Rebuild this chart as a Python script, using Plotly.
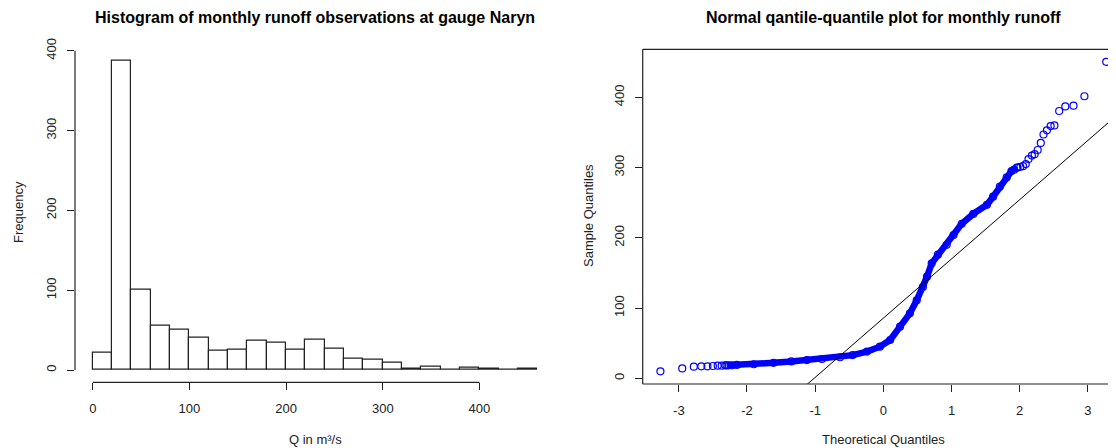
import plotly.graph_objects as go

# histogram: bins of 20 m3/s, counts
BIN_EDGES = list(range(0, 480, 20))
COUNTS = [22, 387, 100, 56, 50, 40, 24, 25, 37, 34, 25, 38, 27, 14, 13, 9, 2, 4, 0, 3, 1, 0, 1]
HIST_TICKS = [0, 100, 200, 300, 400]

# QQ plot: sparse tail points (theoretical, sample)
TAIL_X = [-3.27, -2.95, -2.78, -2.67, -2.58, -2.50, -2.43, -2.37, -2.32, -2.27, -2.22,
          1.92, 1.97, 2.01, 2.05, 2.09, 2.13, 2.18, 2.22, 2.265, 2.31, 2.35, 2.40, 2.455,
          2.51, 2.58, 2.67, 2.79, 2.95, 3.27]
TAIL_Y = [10, 14, 16.5, 17, 17, 17.5, 18, 18, 18.5, 18.5, 18.5,
          297, 300, 301, 302, 305, 312, 317, 319, 325, 335, 347, 353, 359,
          360, 380.5, 387, 388, 401.5, 450.5]

# QQ plot: dense band of overlapping points
BAND_X = [-2.30, -2.15, -1.90, -1.61, -1.35, -1.12, -0.90, -0.635, -0.45, -0.24, -0.05,
          0.10, 0.245, 0.39, 0.49, 0.58, 0.64, 0.71, 0.80, 0.93, 1.03, 1.15, 1.32, 1.52,
          1.61, 1.71, 1.81, 1.88, 1.96]
BAND_Y = [18.5, 19, 20, 22, 24, 26, 27.5, 30, 33, 38, 45,
          54.5, 73.5, 92.5, 111, 130, 144.6, 163.7, 176, 190, 204, 220, 234, 247,
          258.5, 272.7, 286, 295, 300]
QQ_XTICKS = [-3, -2, -1, 0, 1, 2, 3]
QQ_XTICK_TEXT = ["-3", "-2", "-1", "0", "1", "2", "3"]
QQ_YTICKS = [0, 100, 200, 300, 400]

# qqline
QQ_INTERCEPT = 85.6
QQ_SLOPE = 84.3

FONT = "Liberation Sans, Arial, sans-serif"
INK = "#222222"
WIN_W, WIN_H = 1116, 448
OFF = 8  # default body margin of the page
W, H = WIN_W - OFF, WIN_H - OFF

# plot regions in window pixels (left, right, top, bottom)
HIST_BOX = (75.0, 555.2, 48.8, 382.4)
QQ_BOX = (642.7, 1116.0, 49.3, 384.0)
HIST_XR = [-18.4, 478.4]
HIST_YR = [-15.48, 402.48]
QQ_XR = [-3.53, 3.4135]
QQ_YR = [-8.1, 468.3]


def _px(x):
    return (x - OFF) / W


def _py(y):
    return (H - (y - OFF)) / H


def _dom_x(box):
    return [_px(box[0]), min(1.0, _px(box[1]))]


def _dom_y(box):
    return [_py(box[3]), _py(box[2])]


fig = go.Figure()

centers = [(BIN_EDGES[i] + BIN_EDGES[i + 1]) / 2 for i in range(len(COUNTS))]
fig.add_trace(
    go.Bar(
        x=centers,
        y=COUNTS,
        width=20,
        marker=dict(color="white", line=dict(color=INK, width=1.2)),
        xaxis="x",
        yaxis="y",
        showlegend=False,
    )
)

fig.add_trace(
    go.Scatter(
        x=BAND_X,
        y=BAND_Y,
        mode="lines+markers",
        line=dict(color="#0000FF", width=6.5),
        marker=dict(symbol="circle-open", size=7, color="#0000FF", line=dict(width=1.2)),
        xaxis="x2",
        yaxis="y2",
        showlegend=False,
    )
)
fig.add_trace(
    go.Scatter(
        x=TAIL_X,
        y=TAIL_Y,
        mode="markers",
        marker=dict(symbol="circle-open", size=7, color="#0000FF", line=dict(width=1.2)),
        xaxis="x2",
        yaxis="y2",
        showlegend=False,
    )
)
line_x = QQ_XR
line_y = [QQ_INTERCEPT + QQ_SLOPE * v for v in line_x]
fig.add_trace(
    go.Scatter(
        x=line_x,
        y=line_y,
        mode="lines",
        line=dict(color="black", width=1),
        xaxis="x2",
        yaxis="y2",
        showlegend=False,
    )
)

tick_common = dict(
    ticks="outside",
    ticklen=7,
    tickwidth=1,
    tickcolor=INK,
    tickfont=dict(family=FONT, size=13, color=INK),
    showgrid=False,
    zeroline=False,
    showline=False,
    automargin=False,
    fixedrange=True,
)

fig.update_layout(
    template="none",
    width=W,
    height=H,
    margin=dict(l=0, r=0, t=0, b=0),
    paper_bgcolor="white",
    plot_bgcolor="white",
    bargap=0,
    xaxis=dict(domain=_dom_x(HIST_BOX), range=HIST_XR, tickvals=HIST_TICKS,
               anchor="y", ticklabelstandoff=7, **tick_common),
    yaxis=dict(domain=_dom_y(HIST_BOX), range=HIST_YR, tickvals=HIST_TICKS,
               tickangle=-90, anchor="x", ticklabelstandoff=6, **tick_common),
    xaxis2=dict(domain=_dom_x(QQ_BOX), range=QQ_XR, tickvals=QQ_XTICKS, ticktext=QQ_XTICK_TEXT,
                anchor="y2", ticklabelstandoff=7, **tick_common),
    yaxis2=dict(domain=_dom_y(QQ_BOX), range=QQ_YR, tickvals=QQ_YTICKS,
                tickangle=-90, anchor="x2", ticklabelstandoff=6, **tick_common),
)

# R-style axis lines that only span the tick range
fig.add_shape(type="line", xref="x", yref="y domain", x0=0, x1=400, y0=0, y1=0,
              line=dict(color=INK, width=1.2))
fig.add_shape(type="line", xref="x domain", yref="y", x0=0, x1=0, y0=0, y1=400,
              line=dict(color=INK, width=1.2))
# QQ box: right side falls outside the picture
for x0, x1, y0, y1 in [(0, 1, 0, 0), (0, 1, 1, 1), (0, 0, 0, 1)]:
    fig.add_shape(type="line", xref="x2 domain", yref="y2 domain", x0=x0, x1=x1, y0=y0, y1=y1,
                  line=dict(color=INK, width=1.2))

TITLE_FONT = dict(family=FONT, size=16, color="black")
LABEL_FONT = dict(family=FONT, size=13, color=INK)
hist_cx = (HIST_BOX[0] + HIST_BOX[1]) / 2
qq_cx = 883.3


def _label(text, x_px, y_px, font, angle=0):
    fig.add_annotation(text=text, x=_px(x_px), y=_py(y_px), xref="paper", yref="paper",
                       xanchor="center", yanchor="middle", showarrow=False,
                       textangle=angle, font=font)


_label("<b>Histogram of monthly runoff observations at gauge Naryn</b>", hist_cx, 17, TITLE_FONT)
_label("<b>Normal qantile-quantile plot for monthly runoff</b>", qq_cx, 17, TITLE_FONT)
_label("Q in m³/s", hist_cx, 439, LABEL_FONT)
_label("Theoretical Quantiles", qq_cx, 439, LABEL_FONT)
_label("Frequency", 18, 212, LABEL_FONT, -90)
_label("Sample Quantiles", 588, 216, LABEL_FONT, -90)

fig.write_html("out.html")
